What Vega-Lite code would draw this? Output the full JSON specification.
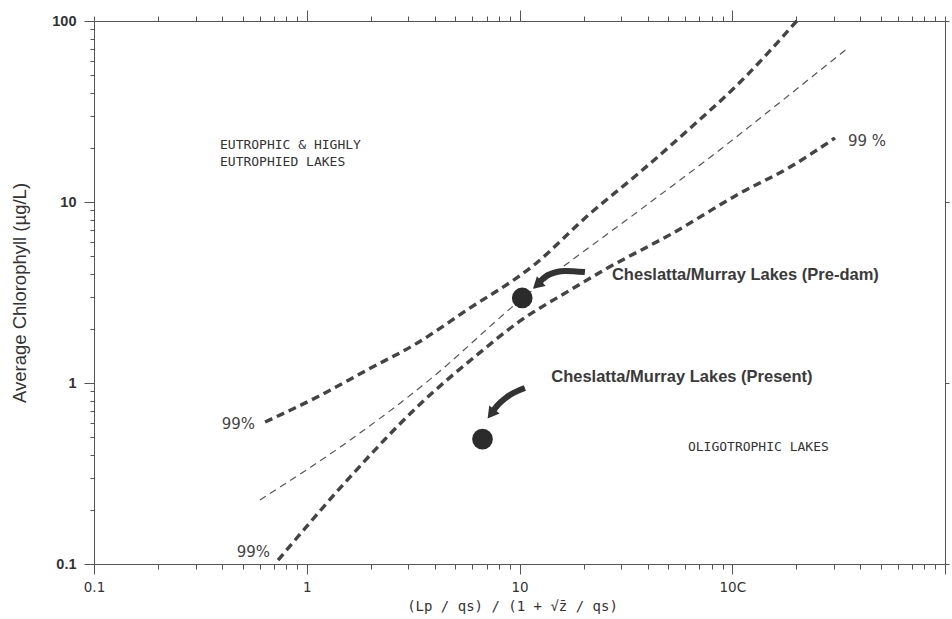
{
  "$schema": "https://vega.github.io/schema/vega-lite/v6.json",
  "width": 851,
  "height": 543,
  "autosize": {"type": "none"},
  "padding": {"left": 94, "top": 21, "right": 7, "bottom": 55},
  "background": "white",
  "config": {"view": {"stroke": null}},
  "datasets": {
    "curves": [
      {"curve": "mean", "x": 0.602, "y": 0.226},
      {"curve": "mean", "x": 1.6, "y": 0.484},
      {"curve": "mean", "x": 3.92, "y": 1.08},
      {"curve": "mean", "x": 9.73, "y": 2.77},
      {"curve": "mean", "x": 36.8, "y": 9.03},
      {"curve": "mean", "x": 76.0, "y": 17.1},
      {"curve": "mean", "x": 173, "y": 36.6},
      {"curve": "mean", "x": 350, "y": 71.0},
      {"curve": "upper99", "x": 0.637, "y": 0.609},
      {"curve": "upper99", "x": 1.12, "y": 0.837},
      {"curve": "upper99", "x": 1.92, "y": 1.18},
      {"curve": "upper99", "x": 3.3, "y": 1.66},
      {"curve": "upper99", "x": 5.66, "y": 2.53},
      {"curve": "upper99", "x": 11.6, "y": 4.45},
      {"curve": "upper99", "x": 21.4, "y": 8.6},
      {"curve": "upper99", "x": 36.8, "y": 14.6},
      {"curve": "upper99", "x": 63.2, "y": 25.5},
      {"curve": "upper99", "x": 109, "y": 46.0},
      {"curve": "upper99", "x": 201, "y": 100},
      {"curve": "lower99", "x": 0.733, "y": 0.105},
      {"curve": "lower99", "x": 1.6, "y": 0.303},
      {"curve": "lower99", "x": 3.3, "y": 0.737},
      {"curve": "lower99", "x": 6.73, "y": 1.52},
      {"curve": "lower99", "x": 9.73, "y": 2.14},
      {"curve": "lower99", "x": 17.3, "y": 3.26},
      {"curve": "lower99", "x": 25.8, "y": 4.3},
      {"curve": "lower99", "x": 52.7, "y": 6.74},
      {"curve": "lower99", "x": 109, "y": 11.2},
      {"curve": "lower99", "x": 187, "y": 15.6},
      {"curve": "lower99", "x": 304, "y": 22.6}
    ],
    "sites": [
      {"site": "Pre-dam", "x": 10.3, "y": 2.95},
      {"site": "Present", "x": 6.7, "y": 0.49}
    ],
    "arrows": [
      {"arrow": "Pre-dam", "step": 1, "x": 20.3, "y": 4.1},
      {"arrow": "Pre-dam", "step": 2, "x": 16.4, "y": 4.16},
      {"arrow": "Pre-dam", "step": 3, "x": 13.6, "y": 3.95},
      {"arrow": "Pre-dam", "step": 4, "x": 12.1, "y": 3.48},
      {"arrow": "Present", "step": 1, "x": 10.6, "y": 0.938},
      {"arrow": "Present", "step": 2, "x": 8.73, "y": 0.837},
      {"arrow": "Present", "step": 3, "x": 7.83, "y": 0.746},
      {"arrow": "Present", "step": 4, "x": 7.35, "y": 0.674}
    ],
    "siteLabels": [
      {"text": "Cheslatta/Murray Lakes (Pre-dam)", "x": 27.2, "y": 3.95},
      {"text": "Cheslatta/Murray Lakes (Present)", "x": 14.1, "y": 1.08}
    ],
    "regionLabels": [
      {"text": "EUTROPHIC & HIGHLY", "x": 0.391, "y": 20.6},
      {"text": "EUTROPHIED LAKES", "x": 0.391, "y": 16.6},
      {"text": "OLIGOTROPHIC LAKES", "x": 61.9, "y": 0.443}
    ],
    "bandLabels": [
      {"side": "left", "text": "99%", "x": 0.571, "y": 0.593},
      {"side": "left", "text": "99%", "x": 0.672, "y": 0.116},
      {"side": "right", "text": "99 %", "x": 350, "y": 21.7}
    ]
  },
  "resolve": {"axis": {"x": "independent", "y": "independent"}},
  "layer": [
    {
      "data": {"name": "curves"},
      "transform": [{"filter": "datum.curve == 'mean'"}],
      "mark": {"type": "line", "color": "#555555", "strokeWidth": 1.2, "strokeDash": [7, 5], "interpolate": "monotone"},
      "encoding": {
        "x": {
          "field": "x", "type": "quantitative",
          "scale": {"type": "log", "domain": [0.1, 1000], "nice": false},
          "axis": {
            "orient": "bottom",
            "values": [0.1, 0.2, 0.3, 0.4, 0.5, 0.6, 0.7, 0.8, 0.9, 1, 2, 3, 4, 5, 6, 7, 8, 9, 10, 20, 30, 40, 50, 60, 70, 80, 90, 100, 200, 300, 400, 500, 600, 700, 800, 900, 1000],
            "labelExpr": "datum.value == 0.1 ? '0.1' : datum.value == 1 ? '1' : datum.value == 10 ? '10' : datum.value == 100 ? '10C' : ''",
            "tickSize": {"condition": {"test": "indexof([0.1, 1, 10, 100, 1000], datum.value) >= 0", "value": 10}, "value": 5},
            "tickColor": "#555555",
            "domainColor": "#555555",
            "labelFont": "DejaVu Sans",
            "labelFontSize": 13.5,
            "labelColor": "#333333",
            "labelPadding": 6,
            "labelFlush": false,
            "labelOverlap": false,
            "grid": false,
            "title": "(Lp / qs) / (1 + √z̄ / qs)",
            "titleFont": "DejaVu Sans Mono",
            "titleFontSize": 14,
            "titleFontWeight": "normal",
            "titleColor": "#333333",
            "titlePadding": 6,
            "titleAnchor": "middle",
            "titleX": 418
          }
        },
        "y": {
          "field": "y", "type": "quantitative",
          "scale": {"type": "log", "domain": [0.1, 100], "nice": false},
          "axis": {
            "orient": "left",
            "values": [0.1, 0.2, 0.3, 0.4, 0.5, 0.6, 0.7, 0.8, 0.9, 1, 2, 3, 4, 5, 6, 7, 8, 9, 10, 20, 30, 40, 50, 60, 70, 80, 90, 100],
            "labelExpr": "datum.value == 0.1 ? '0.1' : datum.value == 1 ? '1' : datum.value == 10 ? '10' : datum.value == 100 ? '100' : ''",
            "tickSize": {"condition": {"test": "indexof([0.1, 1, 10, 100], datum.value) >= 0", "value": 10}, "value": 4},
            "tickColor": "#555555",
            "domainColor": "#555555",
            "labelFont": "Liberation Sans",
            "labelFontSize": 14.5,
            "labelFontWeight": "bold",
            "labelColor": "#333333",
            "labelPadding": 8,
            "labelFlush": false,
            "labelOverlap": false,
            "grid": false,
            "title": "Average Chlorophyll (µg/L)",
            "titleFont": "Liberation Sans",
            "titleFontSize": 18.5,
            "titleFontWeight": "normal",
            "titleColor": "#333333",
            "titlePadding": 22
          }
        }
      }
    },
    {
      "data": {"name": "curves"},
      "transform": [{"filter": "datum.curve != 'mean'"}],
      "mark": {"type": "line", "color": "#444444", "strokeWidth": 3.4, "strokeDash": [8, 5], "interpolate": "monotone"},
      "encoding": {
        "detail": {"field": "curve"},
        "x": {
          "field": "x", "type": "quantitative",
          "axis": {
            "orient": "top",
            "values": [0.1, 0.2, 0.3, 0.4, 0.5, 0.6, 0.7, 0.8, 0.9, 1, 2, 3, 4, 5, 6, 7, 8, 9, 10, 20, 30, 40, 50, 60, 70, 80, 90, 100, 200, 300, 400, 500, 600, 700, 800, 900, 1000],
            "labels": false,
            "tickSize": {"condition": {"test": "indexof([1, 10, 100], datum.value) >= 0", "value": 11}, "value": 5},
            "tickColor": "#555555",
            "domainColor": "#555555",
            "grid": false,
            "title": null
          }
        },
        "y": {
          "field": "y", "type": "quantitative",
          "axis": {
            "orient": "right",
            "values": [0.1, 1, 10, 100],
            "labels": false,
            "tickSize": 4,
            "tickColor": "#555555",
            "domainColor": "#555555",
            "grid": false,
            "title": null
          }
        }
      }
    },
    {
      "data": {"name": "arrows"},
      "mark": {"type": "line", "color": "#333333", "strokeWidth": 6, "strokeCap": "butt", "interpolate": "monotone"},
      "encoding": {
        "detail": {"field": "arrow"},
        "order": {"field": "step", "type": "quantitative"},
        "x": {"field": "x", "type": "quantitative", "axis": null},
        "y": {"field": "y", "type": "quantitative", "axis": null}
      }
    },
    {
      "data": {"name": "arrows"},
      "transform": [{"filter": "datum.arrow == 'Pre-dam' && datum.step == 4"}],
      "mark": {"type": "point", "shape": "triangle-up", "angle": 228, "size": 170, "filled": true, "opacity": 1, "color": "#333333"},
      "encoding": {
        "x": {"field": "x", "type": "quantitative", "axis": null},
        "y": {"field": "y", "type": "quantitative", "axis": null}
      }
    },
    {
      "data": {"name": "arrows"},
      "transform": [{"filter": "datum.arrow == 'Present' && datum.step == 4"}],
      "mark": {"type": "point", "shape": "triangle-up", "angle": 217, "size": 170, "filled": true, "opacity": 1, "color": "#333333"},
      "encoding": {
        "x": {"field": "x", "type": "quantitative", "axis": null},
        "y": {"field": "y", "type": "quantitative", "axis": null}
      }
    },
    {
      "data": {"name": "sites"},
      "mark": {"type": "circle", "size": 430, "opacity": 1, "color": "#2b2b2b"},
      "encoding": {
        "x": {"field": "x", "type": "quantitative", "axis": null},
        "y": {"field": "y", "type": "quantitative", "axis": null}
      }
    },
    {
      "data": {"name": "siteLabels"},
      "mark": {"type": "text", "align": "left", "baseline": "middle", "font": "Liberation Sans", "fontSize": 16.5, "fontWeight": "bold", "color": "#3a3a3a"},
      "encoding": {
        "text": {"field": "text"},
        "x": {"field": "x", "type": "quantitative", "axis": null},
        "y": {"field": "y", "type": "quantitative", "axis": null}
      }
    },
    {
      "data": {"name": "regionLabels"},
      "mark": {"type": "text", "align": "left", "baseline": "middle", "font": "DejaVu Sans Mono", "fontSize": 13, "color": "#333333"},
      "encoding": {
        "text": {"field": "text"},
        "x": {"field": "x", "type": "quantitative", "axis": null},
        "y": {"field": "y", "type": "quantitative", "axis": null}
      }
    },
    {
      "data": {"name": "bandLabels"},
      "transform": [{"filter": "datum.side == 'left'"}],
      "mark": {"type": "text", "align": "right", "baseline": "middle", "font": "DejaVu Sans", "fontSize": 15, "color": "#444444"},
      "encoding": {
        "text": {"field": "text"},
        "x": {"field": "x", "type": "quantitative", "axis": null},
        "y": {"field": "y", "type": "quantitative", "axis": null}
      }
    },
    {
      "data": {"name": "bandLabels"},
      "transform": [{"filter": "datum.side == 'right'"}],
      "mark": {"type": "text", "align": "left", "baseline": "middle", "font": "DejaVu Sans", "fontSize": 15, "color": "#444444"},
      "encoding": {
        "text": {"field": "text"},
        "x": {"field": "x", "type": "quantitative", "axis": null},
        "y": {"field": "y", "type": "quantitative", "axis": null}
      }
    }
  ]
}
